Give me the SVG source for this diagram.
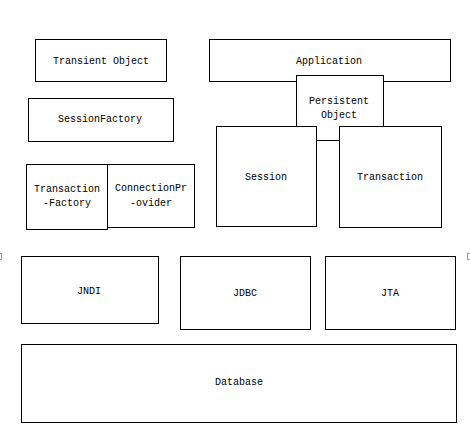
<svg xmlns="http://www.w3.org/2000/svg" width="470" height="431" viewBox="0 0 470 431">
<style>
rect.n{fill:#fff;stroke:#000;stroke-width:1}
text{font-family:"Liberation Mono","DejaVu Sans Mono",monospace;font-size:10px;text-anchor:middle;dominant-baseline:central;fill:#000}
rect.h{fill:#fff;stroke:#999;stroke-width:1}
</style>
<rect width="470" height="431" fill="#fff"/>
<g id="connectors"></g>
<g id="transient-object"><rect class="n" x="35.5" y="39.5" width="131" height="42"/><text x="101" y="61">Transient Object</text></g>
<g id="application"><rect class="n" x="209.5" y="39.5" width="241" height="42"/><text x="329" y="61">Application</text></g>
<g id="persistent-object"><rect class="n" x="296.5" y="75.5" width="87" height="65"/><text x="339" y="101">Persistent</text><text x="339" y="115">Object</text></g>
<g id="session-factory"><rect class="n" x="28.5" y="98.5" width="145" height="43"/><text x="100" y="119.5">SessionFactory</text></g>
<g id="session"><rect class="n" x="216.5" y="126.5" width="100" height="100"/><text x="266" y="177">Session</text></g>
<g id="transaction"><rect class="n" x="339.5" y="126.5" width="102" height="101"/><text x="390" y="177">Transaction</text></g>
<g id="connection-provider"><rect class="n" x="107.5" y="164.5" width="87" height="63"/><text x="151" y="188">ConnectionPr</text><text x="151" y="203">-ovider</text></g>
<g id="transaction-factory"><rect class="n" x="26.5" y="164.5" width="81" height="65"/><text x="67" y="189">Transaction</text><text x="67" y="203">-Factory</text></g>
<g id="handles"><rect class="h" x="-1.5" y="253.5" width="3" height="6"/><rect class="h" x="467.5" y="253.5" width="4" height="6"/></g>
<g id="jndi"><rect class="n" x="21.5" y="256.5" width="137" height="67"/><text x="89" y="291">JNDI</text></g>
<g id="jdbc"><rect class="n" x="180.5" y="256.5" width="130" height="73"/><text x="245" y="293">JDBC</text></g>
<g id="jta"><rect class="n" x="325.5" y="256.5" width="130" height="73"/><text x="390" y="293">JTA</text></g>
<g id="database"><rect class="n" x="21.5" y="344.5" width="435" height="78"/><text x="239" y="382">Database</text></g>
</svg>
